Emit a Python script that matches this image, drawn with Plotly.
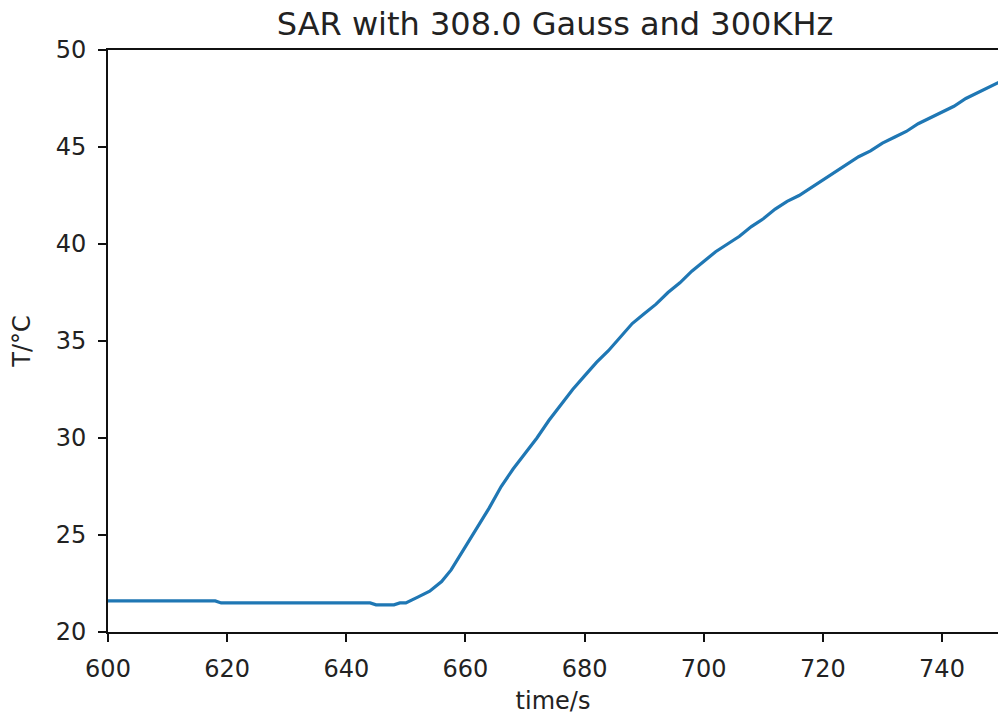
import plotly.graph_objects as go

time_s = [600, 605, 610, 615, 618, 619, 625, 630, 635, 640, 644, 645, 648, 649, 650,
          652, 654, 656, 657.6, 660, 662, 664, 666, 668, 670, 672, 674, 676, 678,
          680, 682, 684, 686, 688, 690, 692, 694, 696, 698, 700, 702, 704, 706,
          708, 710, 712, 714, 716, 718, 720, 722, 724, 726, 728, 730, 732, 734,
          736, 738, 740, 742, 744, 746, 748, 750]
temp_c = [21.6, 21.6, 21.6, 21.6, 21.6, 21.5, 21.5, 21.5, 21.5, 21.5, 21.5, 21.4, 21.4, 21.5, 21.5,
          21.8, 22.1, 22.6, 23.2, 24.4, 25.4, 26.4, 27.5, 28.4, 29.2, 30.0, 30.9, 31.7, 32.5,
          33.2, 33.9, 34.5, 35.2, 35.9, 36.4, 36.9, 37.5, 38.0, 38.6, 39.1, 39.6, 40.0, 40.4,
          40.9, 41.3, 41.8, 42.2, 42.5, 42.9, 43.3, 43.7, 44.1, 44.5, 44.8, 45.2, 45.5, 45.8,
          46.2, 46.5, 46.8, 47.1, 47.5, 47.8, 48.1, 48.4]

x_ticks = [600, 620, 640, 660, 680, 700, 720, 740]
y_ticks = [20, 25, 30, 35, 40, 45, 50]

title_text = "SAR with 308.0 Gauss and 300KHz"
x_label = "time/s"
y_label = "T/°C"

FONT = "DejaVu Sans"
TXT = "#222"

fig = go.Figure()
fig.add_trace(go.Scatter(x=time_s, y=temp_c, mode="lines",
                         line=dict(color="#1f77b4", width=3.2), showlegend=False))

fig.update_layout(
    width=998, height=715,
    margin=dict(l=108, r=0, t=50, b=83),
    paper_bgcolor="white", plot_bgcolor="white",
    font=dict(family=FONT, size=24, color=TXT),
    title=dict(text=title_text, x=555/998, xanchor="center", xref="container",
               y=1 - 24/715, yanchor="middle", yref="container",
               font=dict(family=FONT, size=32, color=TXT)),
)
fig.update_xaxes(range=[600, 749.4], tickvals=x_ticks, ticks="outside", ticklen=8, tickwidth=2,
                 tickcolor="#111", showline=True, linecolor="#111", linewidth=2, mirror=True,
                 showgrid=False, zeroline=False, ticklabelstandoff=6,
                 title=dict(text=x_label, standoff=10, font=dict(family=FONT, size=24)))
fig.update_yaxes(range=[20, 50], tickvals=y_ticks, ticks="outside", ticklen=8, tickwidth=2,
                 tickcolor="#111", showline=True, linecolor="#111", linewidth=2, mirror=False,
                 showgrid=False, zeroline=False, ticklabelstandoff=7,
                 title=dict(text=y_label, standoff=18, font=dict(family=FONT, size=24)))

fig.write_html("out.html")
